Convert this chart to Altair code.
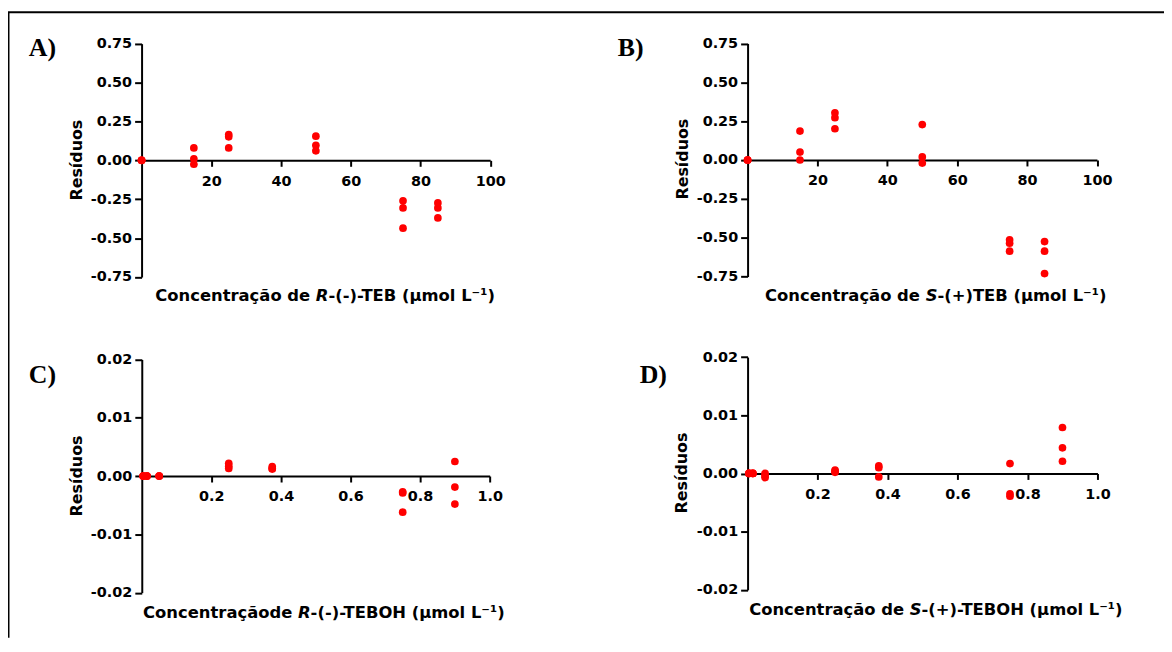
import altair as alt
import pandas as pd

# ---------------- data ----------------
# Panel A: R-(-)-TEB
a_conc = [0, 0, 0, 15, 15, 15, 25, 25, 25, 50, 50, 50, 75, 75, 75, 85, 85, 85]
a_res = [0, 0, 0, 0.08, 0.01, -0.025, 0.166, 0.151, 0.08, 0.155, 0.097, 0.061,
         -0.26, -0.306, -0.436, -0.274, -0.306, -0.37]
# Panel B: S-(+)-TEB
b_conc = [0, 0, 0, 15, 15, 15, 25, 25, 25, 50, 50, 50, 75, 75, 75, 85, 85, 85]
b_res = [0, 0, 0, 0.186, 0.051, 0.0, 0.304, 0.272, 0.201, 0.228, 0.02, -0.02,
         -0.514, -0.536, -0.587, -0.525, -0.587, -0.731]
# Panel C: R-(-)-TEBOH
c_conc = [0.004, 0.004, 0.004, 0.015, 0.015, 0.015, 0.05, 0.05, 0.05,
          0.25, 0.25, 0.25, 0.375, 0.375, 0.375, 0.75, 0.75, 0.75, 0.9, 0.9, 0.9]
c_res = [0, 0, 0, 0, 0, 0, 0, 0, 0,
         0.0022, 0.0017, 0.0013, 0.0016, 0.0013, 0.0012,
         -0.0027, -0.0029, -0.0062, 0.0025, -0.0019, -0.0048]
# Panel D: S-(+)-TEBOH
d_conc = [0.004, 0.004, 0.004, 0.015, 0.015, 0.015, 0.05, 0.05, 0.05,
          0.25, 0.25, 0.25, 0.375, 0.375, 0.375, 0.75, 0.75, 0.75, 0.9, 0.9, 0.9]
d_res = [0, 0, 0, 0, 0, 0, 0, -0.0004, -0.0007,
         0.0006, 0.0004, 0.0002, 0.0013, 0.001, -0.0006,
         0.0017, -0.0035, -0.0039, 0.0079, 0.0044, 0.0021]

teb_xticks = [20, 40, 60, 80, 100]
teb_yticks = [-0.75, -0.5, -0.25, 0, 0.25, 0.5, 0.75]
teboh_xticks = [0.2, 0.4, 0.6, 0.8, 1.0]
teboh_yticks = [-0.02, -0.01, 0, 0.01, 0.02]

panel_letters = ["A)", "B)", "C)", "D)"]
y_title = "Resíduos"
x_titles = [
    ("Concentração de", "R", "-(-)-TEB (µmol L⁻¹)"),
    ("Concentração de", "S", "-(+)TEB (µmol L⁻¹)"),
    ("Concentraçãode", "R", "-(-)-TEBOH (µmol L⁻¹)"),
    ("Concentração de", "S", "-(+)-TEBOH (µmol L⁻¹)"),
]

# ---------------- layout ----------------
W, H = 1164, 632
FONT = "DejaVu Sans"
SERIF = "Liberation Serif"
RED = "#ff0000"
TITLE_SIZE = 16.5

# plot rectangles: (x range), (y range bottom->top)
geo = [
    dict(xr=[134.5, 485.5], yr=[268.7, 33.7]),
    dict(xr=[744.7, 1096.5], yr=[268.2, 33.5]),
    dict(xr=[134.7, 485.0], yr=[586.5, 351.7]),
    dict(xr=[744.7, 1097.0], yr=[583.7, 349.3]),
]
letter_pos = [(21, 46), (614, 46), (21, 375), (636, 375)]
ytitle_pos = [(70, 151), (680, 150), (70, 469), (679, 466)]
xtitle_pos = [(310, 293), (924, 293), (292, 612), (908, 609)]


def minus_fix(fmt):
    return f"replace(format(datum.value, '{fmt}'), '−', '-')"


def panel(conc, res, g, xdom, ydom, xticks, yticks, xfmt, yfmt):
    df = pd.DataFrame({"conc": conc, "res": res})
    yr = g["yr"]
    y_zero = yr[0] + (0 - ydom[0]) / (ydom[1] - ydom[0]) * (yr[1] - yr[0])
    common = dict(
        domainColor="black", domainWidth=2, tickColor="black", tickWidth=2,
        labelFont=FONT, labelFontWeight="bold", labelFontSize=14.5,
        labelColor="black", grid=False, title="", labelFlush=False,
        labelOverlap=False,
    )
    x_axis = alt.Axis(orient="bottom", offset=y_zero - H, values=xticks,
                      labelExpr=minus_fix(xfmt), tickSize=6, labelPadding=8,
                      **common)
    y_axis = alt.Axis(orient="left", offset=-g["xr"][0], values=yticks,
                      labelExpr=minus_fix(yfmt), tickSize=7, labelPadding=3,
                      **common)
    return alt.Chart(df).mark_circle(size=60, color=RED, opacity=1).encode(
        x=alt.X("conc:Q", axis=x_axis,
                scale=alt.Scale(domain=xdom, range=g["xr"], nice=False, zero=False)),
        y=alt.Y("res:Q", axis=y_axis,
                scale=alt.Scale(domain=ydom, range=yr, nice=False, zero=False)),
    )


def text(t, x, y, **kw):
    return alt.Chart(pd.DataFrame({"t": [t]})).mark_text(**kw).encode(
        x=alt.value(x), y=alt.value(y), text="t:N")


layers = []
layers.append(panel(a_conc, a_res, geo[0], [0, 100], [-0.75, 0.75],
                    teb_xticks, teb_yticks, "d", ".2f"))
layers.append(panel(b_conc, b_res, geo[1], [0, 100], [-0.75, 0.75],
                    teb_xticks, teb_yticks, "d", ".2f"))
layers.append(panel(c_conc, c_res, geo[2], [0, 1], [-0.02, 0.02],
                    teboh_xticks, teboh_yticks, ".1f", ".2f"))
layers.append(panel(d_conc, d_res, geo[3], [0, 1], [-0.02, 0.02],
                    teboh_xticks, teboh_yticks, ".1f", ".2f"))

for i in range(4):
    lx, ly = letter_pos[i]
    layers.append(text(panel_letters[i], lx, ly, font=SERIF, fontSize=26,
                       fontWeight="bold", align="left", baseline="alphabetic",
                       color="black"))
    tx, ty = ytitle_pos[i]
    layers.append(text(y_title, tx, ty, font=FONT, fontSize=16,
                       fontWeight="bold", angle=270, align="center",
                       baseline="middle", color="black"))
    pre, ital, suf = x_titles[i]
    px, py = xtitle_pos[i]
    space_w = 0.348 * TITLE_SIZE
    ital_w = (0.770 if ital == "R" else 0.720) * TITLE_SIZE
    layers.append(text(pre, px - space_w, py, font=FONT, fontSize=TITLE_SIZE,
                       fontWeight="bold", align="right", baseline="alphabetic",
                       color="black"))
    layers.append(text(ital, px, py, font=FONT, fontSize=TITLE_SIZE,
                       fontWeight="bold", fontStyle="italic", align="left",
                       baseline="alphabetic", color="black"))
    layers.append(text(suf, px + ital_w, py, font=FONT, fontSize=TITLE_SIZE,
                       fontWeight="bold", align="left", baseline="alphabetic",
                       color="black"))

# figure frame (top and left edges)
frame_df = pd.DataFrame({"k": [0]})
layers.append(alt.Chart(frame_df).mark_rule(color="black", strokeWidth=2).encode(
    x=alt.value(0), x2=alt.value(W), y=alt.value(2)))
layers.append(alt.Chart(frame_df).mark_rule(color="black", strokeWidth=2).encode(
    x=alt.value(0.5), y=alt.value(2), y2=alt.value(H)))

chart = (
    alt.layer(*layers)
    .resolve_scale(x="independent", y="independent")
    .resolve_axis(x="independent", y="independent")
    .properties(width=W, height=H, padding=0,
                autosize=alt.AutoSizeParams(type="none"))
    .configure_view(stroke=None)
)

chart.save("out.html", embed_options={"renderer": "svg", "actions": False})
